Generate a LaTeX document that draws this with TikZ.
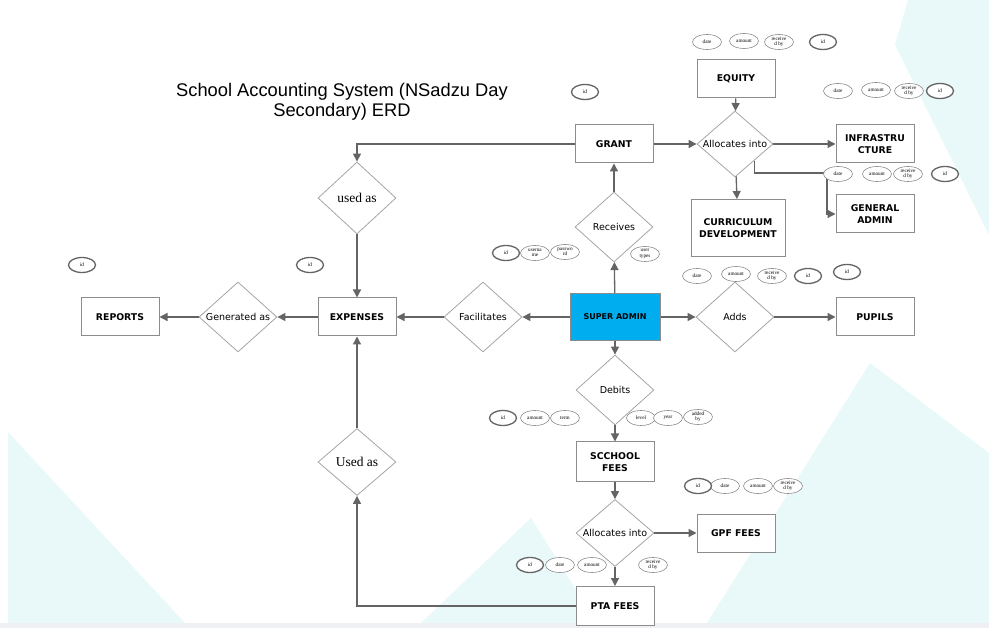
\documentclass[tikz,border=0pt]{standalone}
\usepackage{fontspec}
\setmainfont{Liberation Serif}
\newfontfamily\verdfont{DejaVu Sans}
\newfontfamily\titlefont{Liberation Sans}
\usetikzlibrary{arrows.meta, shapes.geometric}
\usepackage{xcolor}
\definecolor{linegray}{RGB}{100,100,100}
\definecolor{boxgray}{RGB}{140,140,140}
\definecolor{diagray}{RGB}{165,165,165}
\definecolor{bgcyan}{RGB}{233,248,248}
\definecolor{bandgray}{RGB}{238,240,244}
\definecolor{adminblue}{RGB}{0,174,239}
\tikzset{entitynode/.style={rectangle, draw=boxgray, line width=1pt, fill=white, minimum width=78pt, minimum height=38pt, inner sep=2pt, align=center, font=\verdfont\bfseries\fontsize{9.3}{11.8}\selectfont},
relationnode/.style={diamond, draw=diagray, line width=0.8pt, fill=white, minimum width=78pt, minimum height=70pt, inner sep=0pt, font=\verdfont\fontsize{9.5}{11}\selectfont},
serifrelationnode/.style={relationnode, font=\fontsize{13.5}{15}\selectfont}}
\tikzset{attrnode/.style={ellipse, draw=boxgray, line width=0.6pt, fill=white, minimum width=29pt, minimum height=15pt, inner sep=0pt, align=center, font=\fontsize{5.2}{5.4}\selectfont},
keyattrnode/.style={attrnode, draw=linegray, line width=1.3pt, minimum width=27pt},
connect/.style={draw=linegray, line width=1.3pt, -{Triangle[length=8pt, width=8pt]}}}
\newcommand{\reltext}[1]{\makebox[0pt]{#1}}

\begin{document}
\begin{tikzpicture}[x=1pt, y=-1pt]
        % Canvas
        \useasboundingbox (0,0) rectangle (989,628);
        \fill[bgcyan] (908,0) -- (895,45) -- (989,235) -- (989,0) -- cycle;
        \fill[bgcyan] (8,432) -- (185,623) -- (8,623) -- cycle;
        \fill[bgcyan] (421,623) -- (531,518) -- (597,623) -- cycle;
        \fill[bgcyan] (707,623) -- (870,363) -- (989,453) -- (989,623) -- cycle;
        \fill[bandgray] (0,623) rectangle (989,628);
        % Title
        \node[font=\titlefont\fontsize{18.3}{19.5}\selectfont, align=center] (title) at (342,102) {School Accounting System (NSadzu Day\\Secondary) ERD};
        % Entities
        \node[entitynode] (equity) at (736,79) {EQUITY};
        \node[entitynode] (grant) at (614,144) {GRANT};
        \node[entitynode] (infra) at (875,144) {INFRASTRU\\CTURE};
        \node[entitynode] (genadmin) at (875,214) {GENERAL\\ADMIN};
        \node[entitynode, minimum width=94pt, minimum height=57pt] (curriculum) at (738,228) {CURRICULUM\\DEVELOPMENT};
        \node[entitynode] (reports) at (120,317) {REPORTS};
        \node[entitynode] (expenses) at (357,317) {EXPENSES};
        \node[entitynode, fill=adminblue, minimum width=90pt, minimum height=47pt, font=\verdfont\bfseries\fontsize{8}{10}\selectfont] (superadmin) at (615,317) {SUPER ADMIN};
        \node[entitynode] (pupils) at (875,317) {PUPILS};
        \node[entitynode, minimum height=40pt] (schoolfees) at (615,462) {SCCHOOL\\FEES};
        \node[entitynode] (gpffees) at (736,533) {GPF FEES};
        \node[entitynode, minimum height=39pt] (ptafees) at (615,606) {PTA FEES};
        % Relations
        \node[relationnode, minimum width=76pt, minimum height=66pt] (allocequity) at (735,144) {\reltext{Allocates into}};
        \node[serifrelationnode, minimum height=72pt] (usedasgrant) at (357,198) {\reltext{used as}};
        \node[relationnode] (receives) at (614,227) {\reltext{Receives}};
        \node[relationnode] (generated) at (238,317) {\reltext{Generated as}};
        \node[relationnode] (facilitates) at (483,317) {\reltext{Facilitates}};
        \node[relationnode] (adds) at (735,317) {\reltext{Adds}};
        \node[relationnode] (debits) at (615,390) {\reltext{Debits}};
        \node[serifrelationnode, minimum height=67pt] (usedaspta) at (357,462) {\reltext{Used as}};
        \node[relationnode, minimum height=67pt] (allocfees) at (615,533) {\reltext{Allocates into}};
        % Connections
        \coordinate (bendgen) at (827,173);
        \draw[connect] (equity) -- (allocequity);
        \draw[connect] (grant) -- (allocequity);
        \draw[connect] (allocequity) -- (infra);
        \draw[connect] (allocequity) -- (curriculum);
        \draw[connect] (allocequity.south east) |- (bendgen) |- (genadmin.west);
        \draw[connect] (grant.west) -| (usedasgrant.north);
        \draw[connect] (usedasgrant) -- (expenses);
        \draw[connect] (expenses) -- (generated);
        \draw[connect] (generated) -- (reports);
        \draw[connect] (superadmin) -- (facilitates);
        \draw[connect] (facilitates) -- (expenses);
        \draw[connect] (superadmin) -- (receives);
        \draw[connect] (receives) -- (grant);
        \draw[connect] (superadmin) -- (adds);
        \draw[connect] (adds) -- (pupils);
        \draw[connect] (superadmin) -- (debits);
        \draw[connect] (debits) -- (schoolfees);
        \draw[connect] (schoolfees) -- (allocfees);
        \draw[connect] (allocfees) -- (gpffees);
        \draw[connect] (allocfees) -- (ptafees);
        \draw[connect] (ptafees.west) -| (usedaspta.south);
        \draw[connect] (usedaspta) -- (expenses);
        % Attributes
        \foreach \x/\y/\t [count=\i] in {
            707/42/date, 744/41/amount, 779/42/{receive\\d by},
            838/91/date, 876/90/amount, 909/91/{receive\\d by},
            838/174/date, 877/174/amount, 908/174/{receive\\d by},
            535/253/{userna\\me}, 565/252/{passwo\\rd}, 645/254/{user\\types},
            697/276/date, 736/274/amount, 772/276/{receive\\d by},
            535/418/amount, 565/418/term, 641/418/level, 668/418/year, 698/417/{added\\by},
            725/486/date, 758/486/amount, 788/486/{receive\\d by},
            560/565/date, 592/565/amount, 653/565/{receive\\d by}} {
            \node[attrnode] (attr\i) at (\x,\y) {\t};
        }
        \foreach \x/\y [count=\i] in {
            823/42, 940/91, 945/174, 585/92, 506/253, 808/276, 847/272,
            503/418, 698/486, 530/565, 82/265, 310/265} {
            \node[keyattrnode] (key\i) at (\x,\y) {id};
        }
    \end{tikzpicture}
\end{document}
